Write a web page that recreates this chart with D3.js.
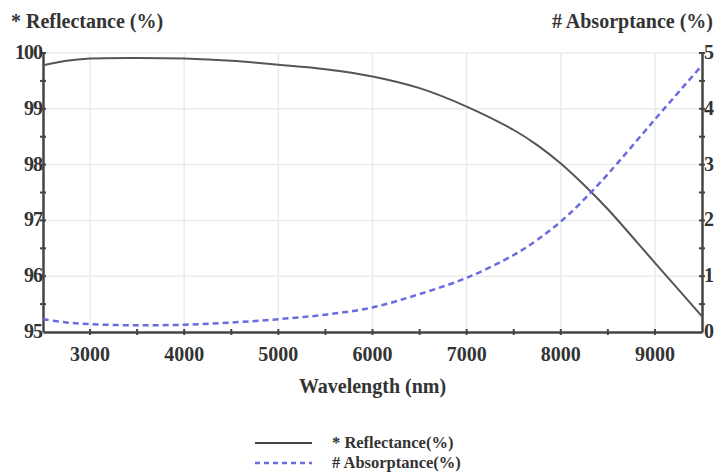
<!DOCTYPE html>
<html>
<head>
<meta charset="utf-8">
<script src="https://cdn.jsdelivr.net/npm/d3@7"></script>
<style>
    body { margin: 0; background: #fff; }
</style>
</head>
<body>
<div id="chart"></div>
<script>

// wavelengths (nm)
let wavelength = [2500, 2750, 3000, 3500, 4000, 4500, 5000, 5500, 6000, 6500, 7000, 7500, 7750, 8000, 8250, 8500, 9000, 9500];

// reflectance (%), left axis
let reflectance = [99.78, 99.86, 99.9, 99.91, 99.9, 99.86, 99.79, 99.71, 99.58, 99.37, 99.04, 98.62, 98.35, 98.02, 97.63, 97.2, 96.24, 95.28];

// absorptance (%), right axis
let absorptance = [0.23, 0.17, 0.14, 0.12, 0.13, 0.17, 0.23, 0.31, 0.44, 0.68, 0.97, 1.38, 1.65, 1.98, 2.38, 2.83, 3.81, 4.78];

let xTicks = [3000, 4000, 5000, 6000, 7000, 8000, 9000];
let leftTicks = [95, 96, 97, 98, 99, 100];
let rightTicks = [0, 1, 2, 3, 4, 5];

let width = 716, height = 473;
let margin = {top: 53, right: 14, bottom: 141, left: 43};
let font = "'Liberation Serif', 'Times New Roman', Times, 'DejaVu Serif', serif";

let svg = d3.select("#chart").append("svg")
    .attr("width", width)
    .attr("height", height);

let x = d3.scaleLinear().domain([2500, 9500]).range([margin.left, width - margin.right]);
let yL = d3.scaleLinear().domain([95, 100]).range([height - margin.bottom, margin.top]);
let yR = d3.scaleLinear().domain([0, 5]).range([height - margin.bottom, margin.top]);

let axisColor = "#444";

// grid
svg.append("g")
    .selectAll("line")
    .data(xTicks)
    .enter().append("line")
    .attr("x1", d => x(d)).attr("x2", d => x(d))
    .attr("y1", yL(100)).attr("y2", yL(95))
    .attr("stroke", "#ebebeb").attr("stroke-width", 1.5);

svg.append("g")
    .selectAll("line")
    .data(leftTicks.slice(1))
    .enter().append("line")
    .attr("x1", x(2500)).attr("x2", x(9500))
    .attr("y1", d => yL(d)).attr("y2", d => yL(d))
    .attr("stroke", "#ebebeb").attr("stroke-width", 1.5);

// axes (domain lines only, ticks drawn crossing below)
let gx = svg.append("g").attr("transform", `translate(0, ${yL(95)})`)
    .call(d3.axisBottom(x).tickValues([]).tickSizeOuter(0));
gx.select(".domain").attr("stroke", axisColor).attr("stroke-width", 2.5);

let gl = svg.append("g").attr("transform", `translate(${x(2500)}, 0)`)
    .call(d3.axisLeft(yL).tickValues([]).tickSizeOuter(0));
gl.select(".domain").attr("stroke", axisColor).attr("stroke-width", 2.5);

let gr = svg.append("g").attr("transform", `translate(${x(9500)}, 0)`)
    .call(d3.axisRight(yR).tickValues([]).tickSizeOuter(0));
gr.select(".domain").attr("stroke", axisColor).attr("stroke-width", 2.5);

// tick marks crossing the axes
svg.append("g").selectAll("line")
    .data(d3.range(3000, 9001, 500))
    .enter().append("line")
    .attr("x1", d => x(d)).attr("x2", d => x(d))
    .attr("y1", yL(95) - 3).attr("y2", yL(95) + 3)
    .attr("stroke", axisColor).attr("stroke-width", 2);

svg.append("g").selectAll("line")
    .data(d3.range(95.5, 100.01, 0.5))
    .enter().append("line")
    .attr("x1", x(2500) - 3).attr("x2", x(2500) + 3)
    .attr("y1", d => yL(d)).attr("y2", d => yL(d))
    .attr("stroke", axisColor).attr("stroke-width", 2);

svg.append("g").selectAll("line")
    .data(d3.range(0.5, 5.01, 0.5))
    .enter().append("line")
    .attr("x1", x(9500) - 3).attr("x2", x(9500) + 3)
    .attr("y1", d => yR(d)).attr("y2", d => yR(d))
    .attr("stroke", axisColor).attr("stroke-width", 2);

// text helper
function label(sel) {
    return sel.attr("font-family", font).attr("font-weight", "bold").attr("fill", "#333");
}

svg.append("g").selectAll("text")
    .data(xTicks)
    .enter().append("text")
    .call(label)
    .attr("x", d => x(d)).attr("y", yL(95) + 29)
    .attr("text-anchor", "middle")
    .attr("font-size", 20)
    .text(d => d);

svg.append("g").selectAll("text")
    .data(leftTicks)
    .enter().append("text")
    .call(label)
    .attr("x", x(2500) - 1).attr("y", d => yL(d) + 6)
    .attr("text-anchor", "end")
    .attr("font-size", 20)
    .attr("letter-spacing", -1)
    .text(d => d);

svg.append("g").selectAll("text")
    .data(rightTicks)
    .enter().append("text")
    .call(label)
    .attr("x", x(9500) + 2).attr("y", d => yR(d) + 6)
    .attr("font-size", 20)
    .text(d => d);

// titles
svg.append("text").call(label).attr("x", 11).attr("y", 28).attr("font-size", 20).text("* Reflectance (%)");
svg.append("text").call(label).attr("x", 713).attr("y", 28).attr("font-size", 20).attr("text-anchor", "end").text("# Absorptance (%)");
svg.append("text").call(label).attr("x", (x(2500) + x(9500)) / 2).attr("y", 393)
    .attr("font-size", 20).attr("text-anchor", "middle").text("Wavelength (nm)");

// lines
let reflLine = d3.line()
    .x((d, i) => x(wavelength[i]))
    .y(d => yL(d))
    .curve(d3.curveCatmullRom);

let absLine = d3.line()
    .x((d, i) => x(wavelength[i]))
    .y(d => yR(d))
    .curve(d3.curveCatmullRom);

svg.append("path")
    .attr("d", reflLine(reflectance))
    .attr("fill", "none")
    .attr("stroke", "#555")
    .attr("stroke-width", 2);

svg.append("path")
    .attr("d", absLine(absorptance))
    .attr("fill", "none")
    .attr("stroke", "#6b6be0")
    .attr("stroke-width", 2.5)
    .attr("stroke-dasharray", "6,4");

// legend
let legend = svg.append("g").attr("class", "legend");
legend.append("line").attr("x1", 255).attr("x2", 312).attr("y1", 443).attr("y2", 443)
    .attr("stroke", "#444").attr("stroke-width", 2);
legend.append("text").call(label).attr("x", 332).attr("y", 448).attr("font-size", 16.5).text("* Reflectance(%)");
legend.append("line").attr("x1", 255).attr("x2", 312).attr("y1", 463).attr("y2", 463)
    .attr("stroke", "#6b6be0").attr("stroke-width", 2.5).attr("stroke-dasharray", "5,4");
legend.append("text").call(label).attr("x", 332).attr("y", 468).attr("font-size", 16.5).text("# Absorptance(%)");

</script>
</body>
</html>
